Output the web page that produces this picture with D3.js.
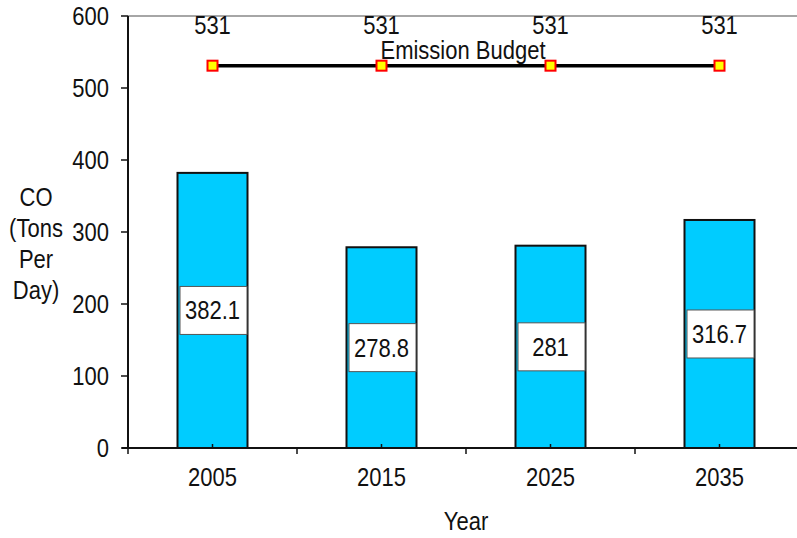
<!DOCTYPE html>
<html>
<head>
<meta charset="utf-8">
<script src="https://cdn.jsdelivr.net/npm/d3@7"></script>
<style>
  body { margin: 0; background: #fff; }
  text { font-family: "Liberation Sans", Arial, sans-serif; fill: #111; font-size: 22px; }
</style>
</head>
<body>
<script>
// chart data
var years = ["2005", "2015", "2025", "2035"];
var emissions = [382.1, 278.8, 281, 316.7];
var budget = [531, 531, 531, 531];
var yTicks = [0, 100, 200, 300, 400, 500, 600];
var yTitle = ["CO", "(Tons", "Per", "Day)"];

var margin = {top: 16, right: -7, bottom: 90, left: 128};
var width = 797 - margin.left - margin.right,
    height = 538 - margin.top - margin.bottom;

// text in the original is a bit taller than wide
var stretch = 1.14;
function place(px, py) {
    return "translate(" + px + "," + py + ") scale(1," + stretch + ")";
}

var svg = d3.select("body").append("svg")
    .attr("width", 797).attr("height", 538)
    .append("g")
    .attr("transform", "translate(" + margin.left + "," + margin.top + ")");

var x = d3.scaleBand().domain(years).range([0, width]).paddingInner(0);
var y = d3.scaleLinear().domain([0, 600]).range([height, 0]);
var barW = 70;
function cx(i) { return x(years[i]) + x.bandwidth() / 2; }

// top border of plot area
svg.append("line")
    .attr("x1", 0).attr("x2", width).attr("y1", 0).attr("y2", 0)
    .attr("stroke", "#888").attr("stroke-width", 1.5);

// bars
svg.selectAll("rect.bar")
    .data(emissions)
    .enter().append("rect").attr("class", "bar")
    .attr("x", function(d, i) { return cx(i) - barW / 2; })
    .attr("y", function(d) { return y(d); })
    .attr("width", barW)
    .attr("height", function(d) { return height - y(d); })
    .attr("fill", "#00ccff")
    .attr("stroke", "#111").attr("stroke-width", 2);

// value boxes in the middle of the bars
var boxW = 67, boxH = 48;
var vals = svg.selectAll("g.val")
    .data(emissions)
    .enter().append("g").attr("class", "val")
    .attr("transform", function(d, i) {
        return "translate(" + cx(i) + "," + ((y(d) + height) / 2) + ")";
    });
vals.append("rect")
    .attr("x", -boxW / 2 + 1).attr("y", -boxH / 2)
    .attr("width", boxW).attr("height", boxH)
    .attr("fill", "#fff").attr("stroke", "#555").attr("stroke-width", 1);
vals.append("text")
    .attr("text-anchor", "middle")
    .attr("transform", place(0, 9))
    .text(function(d) { return d; });

// x axis
svg.append("line")
    .attr("x1", -6).attr("x2", width).attr("y1", height).attr("y2", height)
    .attr("stroke", "#111").attr("stroke-width", 2);
svg.selectAll("line.xtick")
    .data(years)
    .enter().append("line").attr("class", "xtick")
    .attr("x1", function(d) { return x(d); }).attr("x2", function(d) { return x(d); })
    .attr("y1", height).attr("y2", height + 6)
    .attr("stroke", "#111").attr("stroke-width", 1.5);
svg.selectAll("line.ctick")
    .data(years)
    .enter().append("line").attr("class", "ctick")
    .attr("x1", function(d, i) { return cx(i); })
    .attr("x2", function(d, i) { return cx(i); })
    .attr("y1", height).attr("y2", height - 4)
    .attr("stroke", "#111").attr("stroke-width", 1.5);
svg.selectAll("text.xlab")
    .data(years)
    .enter().append("text").attr("class", "xlab")
    .attr("text-anchor", "middle")
    .attr("transform", function(d, i) { return place(cx(i), height + 38); })
    .text(function(d) { return d; });

// y axis
svg.append("line")
    .attr("x1", 0).attr("x2", 0).attr("y1", 0).attr("y2", height)
    .attr("stroke", "#111").attr("stroke-width", 2);
svg.selectAll("line.ytick")
    .data(yTicks)
    .enter().append("line").attr("class", "ytick")
    .attr("x1", -7).attr("x2", 0)
    .attr("y1", function(d) { return y(d); }).attr("y2", function(d) { return y(d); })
    .attr("stroke", "#111").attr("stroke-width", 1.5);
svg.selectAll("text.ylab")
    .data(yTicks)
    .enter().append("text").attr("class", "ylab")
    .attr("text-anchor", "end")
    .attr("transform", function(d) { return place(-19, y(d) + 9); })
    .text(function(d) { return d; });

// budget line
var line = d3.line()
    .x(function(d, i) { return cx(i); })
    .y(function(d) { return y(d); });
svg.append("path")
    .datum(budget)
    .attr("d", line)
    .attr("fill", "none").attr("stroke", "#000").attr("stroke-width", 3.5);
svg.selectAll("rect.mark")
    .data(budget)
    .enter().append("rect").attr("class", "mark")
    .attr("x", function(d, i) { return cx(i) - 5; })
    .attr("y", function(d) { return y(d) - 5; })
    .attr("width", 10).attr("height", 10)
    .attr("fill", "#ffff00").attr("stroke", "#ff0000").attr("stroke-width", 2);
svg.selectAll("text.blab")
    .data(budget)
    .enter().append("text").attr("class", "blab")
    .attr("text-anchor", "middle")
    .attr("transform", function(d, i) { return place(cx(i), y(d) - 32); })
    .text(function(d) { return d; });
svg.append("text")
    .attr("text-anchor", "middle")
    .attr("transform", place((cx(1) + cx(2)) / 2 - 3, y(budget[0]) - 7))
    .text("Emission Budget");

// axis titles
svg.append("text")
    .attr("text-anchor", "middle")
    .attr("transform", place((cx(1) + cx(2)) / 2, height + 82))
    .text("Year");
svg.selectAll("text.ytitle")
    .data(yTitle)
    .enter().append("text").attr("class", "ytitle")
    .attr("text-anchor", "middle")
    .attr("transform", function(d, i) { return place(-92, 190 + i * 31); })
    .text(function(d) { return d; });
</script>
</body>
</html>
